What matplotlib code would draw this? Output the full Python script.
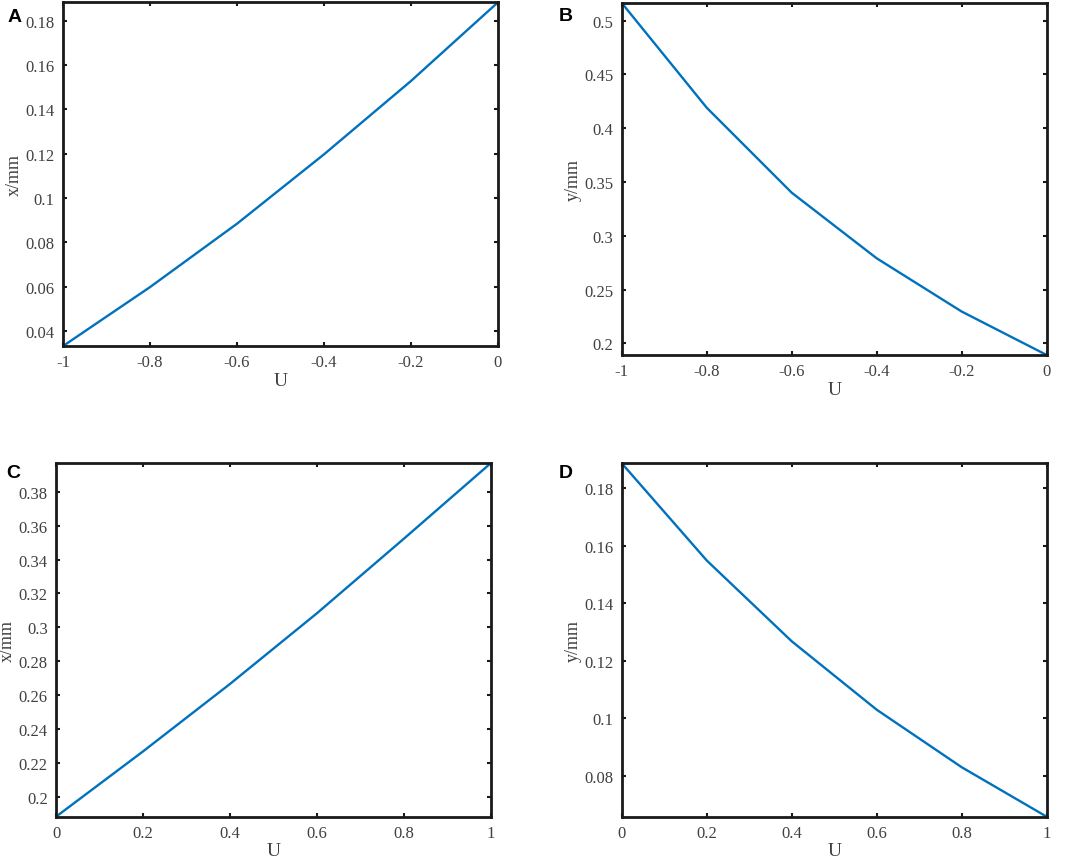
import matplotlib
matplotlib.use("Agg")
import matplotlib.pyplot as plt

u_neg = [-1.0, -0.8, -0.6, -0.4, -0.2, 0.0]
u_pos = [0.0, 0.2, 0.4, 0.6, 0.8, 1.0]
x_a = [0.0332, 0.0598, 0.0884, 0.1197, 0.1528, 0.1883]
y_b = [0.5164, 0.4190, 0.3400, 0.2790, 0.2295, 0.1891]
x_c = [0.1882, 0.2267, 0.2665, 0.3082, 0.3522, 0.3968]
y_d = [0.1886, 0.1548, 0.1267, 0.1029, 0.0829, 0.0657]

xticks_neg = [-1, -0.8, -0.6, -0.4, -0.2, 0]
xticklabels_neg = ["-1", "-0.8", "-0.6", "-0.4", "-0.2", "0"]
xticks_pos = [0, 0.2, 0.4, 0.6, 0.8, 1]
xticklabels_pos = ["0", "0.2", "0.4", "0.6", "0.8", "1"]
yticks_a = [0.04, 0.06, 0.08, 0.10, 0.12, 0.14, 0.16, 0.18]
yticklabels_a = ["0.04", "0.06", "0.08", "0.1", "0.12", "0.14", "0.16", "0.18"]
yticks_b = [0.20, 0.25, 0.30, 0.35, 0.40, 0.45, 0.50]
yticklabels_b = ["0.2", "0.25", "0.3", "0.35", "0.4", "0.45", "0.5"]
yticks_c = [0.20, 0.22, 0.24, 0.26, 0.28, 0.30, 0.32, 0.34, 0.36, 0.38]
yticklabels_c = ["0.2", "0.22", "0.24", "0.26", "0.28", "0.3", "0.32", "0.34", "0.36", "0.38"]
yticks_d = [0.08, 0.10, 0.12, 0.14, 0.16, 0.18]
yticklabels_d = ["0.08", "0.1", "0.12", "0.14", "0.16", "0.18"]

panels = [
    ("A", (0.0066, 0.9896), [0.0592, 0.5974, 0.4084, 0.3988], u_neg, x_a, xticks_neg, xticklabels_neg, yticks_a, yticklabels_a, "x/mm", (0.0332, 0.1883)),
    ("B", (0.5249, 0.9907), [0.5838, 0.5870, 0.3990, 0.4084], u_neg, y_b, xticks_neg, xticklabels_neg, yticks_b, yticklabels_b, "y/mm", (0.1891, 0.5164)),
    ("C", (0.0056, 0.4606), [0.0526, 0.0514, 0.4081, 0.4100], u_pos, x_c, xticks_pos, xticklabels_pos, yticks_c, yticklabels_c, "x/mm", (0.1882, 0.3968)),
    ("D", (0.5249, 0.4606), [0.5838, 0.0514, 0.3990, 0.4100], u_pos, y_d, xticks_pos, xticklabels_pos, yticks_d, yticklabels_d, "y/mm", (0.0657, 0.1886)),
]

plt.rcParams['font.family'] = ['Liberation Serif', 'DejaVu Serif']
fig = plt.figure(figsize=(10.65, 8.62), dpi=100)
tick_color = "#404040"

for label, lpos, rect, xs, ys, xt, xtl, yt, ytl, ylab, ylim in panels:
    ax = fig.add_axes(rect)
    ax.plot(xs, ys, color="#0072BD", lw=1.7)
    ax.set_xlim(xs[0], xs[-1])
    ax.set_ylim(*ylim)
    ax.set_xticks(xt)
    ax.set_xticklabels(xtl)
    ax.set_yticks(yt)
    ax.set_yticklabels(ytl)
    ax.tick_params(direction="in", length=3, width=1.5, top=True, right=True,
                   labelsize=12, labelcolor=tick_color, color="#1a1a1a", pad=6)
    for sp in ax.spines.values():
        sp.set_linewidth(2.0)
        sp.set_color("#1a1a1a")
    ax.set_xlabel("U", fontsize=14, color=tick_color, labelpad=1)
    ax.set_ylabel(ylab, fontsize=13, color=tick_color, labelpad=2)
    fig.text(lpos[0], lpos[1], label, fontsize=14,
             fontweight="bold", family=["Liberation Sans", "DejaVu Sans"],
             ha="left", va="top", color="black")

fig.savefig("out.png", dpi=100)
